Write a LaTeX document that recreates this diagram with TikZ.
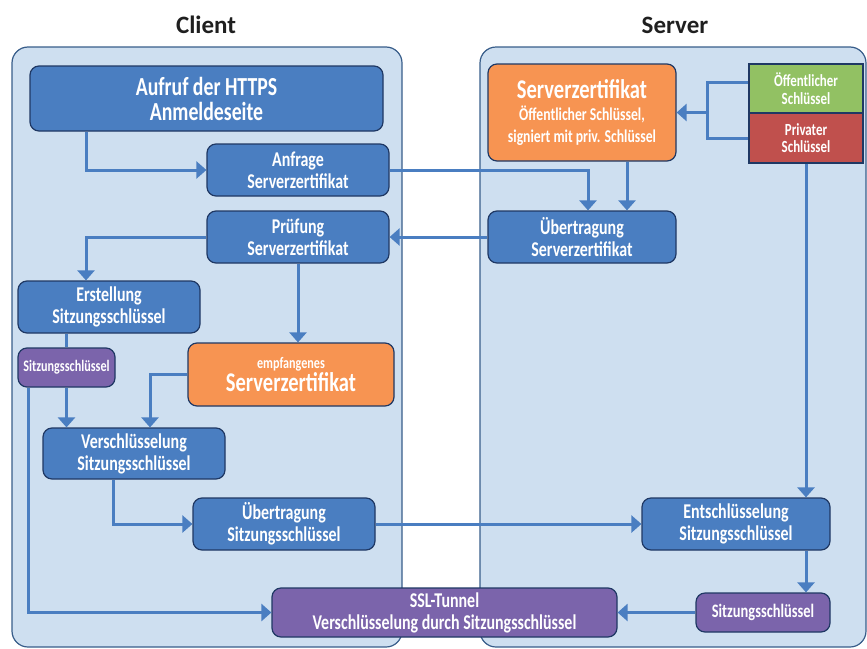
\documentclass[tikz,border=0pt]{standalone}
\usepackage{fontspec}
\setmainfont{Carlito}[FakeStretch=0.76]
\newfontfamily\titlefont{Carlito}
\usepackage{tikz}
\usetikzlibrary{arrows.meta}
\definecolor{panelblue}{RGB}{206,223,240}
\definecolor{paneledge}{RGB}{56,93,138}
\definecolor{boxblue}{RGB}{74,126,193}
\definecolor{boxedge}{RGB}{31,56,100}
\definecolor{boxorange}{RGB}{247,148,82}
\definecolor{boxgreen}{RGB}{146,193,99}
\definecolor{boxred}{RGB}{192,80,77}
\definecolor{boxpurple}{RGB}{123,100,171}
\tikzset{
  procnode/.style = {align=center, inner sep=0pt, text centered, text=white,
    font=\bfseries\fontsize{21}{22}\selectfont, draw=boxedge, line width=1.2pt,
    rounded corners=9pt},% Schritt, allgemein
  proc_b/.style = {procnode, fill=boxblue},% Schritt, blau
  proc_o/.style = {procnode, fill=boxorange},% Zertifikat
  proc_p/.style = {procnode, fill=boxpurple},% Sitzungsschluessel
  key_g/.style = {procnode, fill=boxgreen, rounded corners=0pt,
    font=\bfseries\fontsize{17}{18}\selectfont},
  key_r/.style = {procnode, fill=boxred, rounded corners=0pt,
    font=\bfseries\fontsize{17}{17}\selectfont},
  panel/.style = {fill=panelblue, draw=paneledge, line width=1.2pt,
    rounded corners=16pt},
  sidetitle/.style = {font=\titlefont\bfseries\fontsize{25}{28}\selectfont,
    text=black!88},
}

\begin{document}
\begin{tikzpicture}[x=1pt,y=-1pt,>={Triangle[length=10pt,width=17pt]},
  flow/.style={->,draw=boxblue,line width=3pt}]
  \useasboundingbox (0,0) rectangle (867,648);

  % Hintergrund
  \draw[panel] (12,47) rectangle (402,647);
  \draw[panel] (480,47) rectangle (866,647);
  \node[sidetitle] (client) at (206,25) {Client};
  \node[sidetitle] (server) at (675,25) {Server};

  %   Client
  \node[proc_b, minimum width=353, minimum height=65,
    font=\bfseries\fontsize{26}{25}\selectfont] (aufruf) at (206.5,98.5)
    {Aufruf der HTTPS\\Anmeldeseite};
  \node[proc_b, minimum width=182, minimum height=52] (anfrage) at (298,170)
    {Anfrage\\Serverzertifikat};
  \node[proc_b, minimum width=182, minimum height=52] (pruefung) at (298,237)
    {Prüfung\\Serverzertifikat};
  \node[proc_b, minimum width=182, minimum height=52] (erstellung) at (109,307)
    {Erstellung\\Sitzungsschlüssel};
  \node[proc_p, minimum width=97, minimum height=39,
    font=\bfseries\fontsize{16}{17}\selectfont] (sitz_c) at (66.5,367.5)
    {Sitzungsschlüssel};
  \node[proc_o, minimum width=206, minimum height=63] (empf) at (291,374.5)
    {{\fontsize{16}{17}\selectfont empfangenes}\\[1pt]
     {\fontsize{27}{22}\selectfont Serverzertifikat}};
  \node[proc_b, minimum width=182, minimum height=51] (verschl) at (134,453.5)
    {Verschlüsselung\\Sitzungsschlüssel};
  \node[proc_b, minimum width=182, minimum height=52] (uebertr_s) at (284,524)
    {Übertragung\\Sitzungsschlüssel};
  \node[proc_p, minimum width=345, minimum height=49] (tunnel) at (444.5,612.5)
    {SSL-Tunnel\\Verschlüsselung durch Sitzungsschlüssel};

  %   Server
  \node[proc_o, minimum width=188, minimum height=97] (zert) at (582,112.5)
    {{\fontsize{27}{24}\selectfont Serverzertifikat}\\
     {\fontsize{18}{22}\selectfont Öffentlicher Schlüssel,}\\
     {\fontsize{18}{22}\selectfont signiert mit priv. Schlüssel}};
  \node[key_g, minimum width=114, minimum height=49] (oeff) at (806,88.5)
    {Öffentlicher\\Schlüssel};
  \node[key_r, minimum width=114, minimum height=50] (priv) at (806,138)
    {Privater\\Schlüssel};
  \node[proc_b, minimum width=188, minimum height=52] (uebertr_z) at (582,237)
    {Übertragung\\Serverzertifikat};
  \node[proc_b, minimum width=188, minimum height=52] (entschl) at (736,524)
    {Entschlüsselung\\Sitzungsschlüssel};
  \node[proc_p, minimum width=134, minimum height=39,
    font=\bfseries\fontsize{19}{20}\selectfont] (sitz_s) at (763,612.5)
    {Sitzungsschlüssel};
  \coordinate (brk) at (707,110);

  %   Zertifikat holen
  \draw[flow] ([xshift=-120.5pt]aufruf.south) |- (anfrage.west);
  \draw[flow] (anfrage.east) -| ([xshift=6pt]uebertr_z.north);
  \draw[flow] ([xshift=45pt]zert.south) -- ([xshift=45pt]uebertr_z.north);
  \draw[flow,-] ([yshift=6pt]oeff.west) -- ([yshift=6pt]oeff.west -| brk)
    -- (priv.west -| brk) -- (priv.west);
  \draw[flow] (brk |- zert.east) -- (zert.east);
  \draw[flow] (uebertr_z.west) -- (pruefung.east);
%   Schluessel erzeugen
  \draw[flow] (pruefung.west) -| ([xshift=-23pt]erstellung.north);
  \draw[flow] (pruefung.south) -- (pruefung.south |- empf.north);
  \draw[flow,-] (sitz_c.north |- erstellung.south) -- (sitz_c.north);
  \draw[flow] (sitz_c.south) -- (sitz_c.south |- verschl.north);
  \draw[flow] (empf.west) -| ([xshift=16pt]verschl.north);
  \draw[flow] ([xshift=-38pt]sitz_c.south) |- (tunnel.west);
  \draw[flow] ([xshift=-21pt]verschl.south) |- (uebertr_s.west);
  \draw[flow] (uebertr_s.east) -- (entschl.west);
  \draw[flow] (priv.south) -- (priv.south |- entschl.north);
  \draw[flow] (priv.south |- entschl.south) -- (priv.south |- sitz_s.north);
  \draw[flow] (sitz_s.west) -- (tunnel.east);
\end{tikzpicture}
\end{document}
